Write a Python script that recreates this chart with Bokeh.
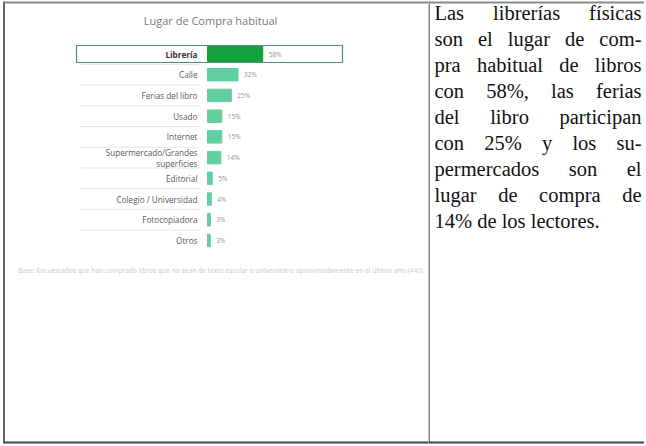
from bokeh.plotting import figure
from bokeh.layouts import row
from bokeh.models import Range1d, ColumnDataSource
from bokeh.core.properties import value
from bokeh.embed import file_html
from bokeh.resources import INLINE

# ---------------- data ----------------
categories = ["Librería", "Calle", "Ferias del libro", "Usado", "Internet",
              "Supermercado/Grandes\nsuperficies", "Editorial", "Colegio / Universidad",
              "Fotocopiadora", "Otros"]
values = [58, 32, 25, 15, 15, 14, 5, 4, 3, 3]
value_labels = [f"{v}%" for v in values]
chart_title = "Lugar de Compra habitual"
footnote = ("Base: Encuestados que han comprado libros que no sean de texto escolar o "
            "universitario aproximadamente en el último año (440)")
paragraph_lines = [
    "Las librerías físicas",
    "son el lugar de com-",
    "pra habitual de libros",
    "con 58%, las ferias",
    "del libro participan",
    "con 25% y los su-",
    "permercados son el",
    "lugar de compra de",
    "14% de los lectores.",
]

# ---------------- layout constants (page pixels) ----------------
LEFT_W, RIGHT_W, H = 428, 216, 444
PAGE_X0, PAGE_Y0 = 0, 0
BAR0 = 207.0      # page x of 0%
PXPCT = 0.953     # px per percent
ROW0 = 53.5       # page y of first row
ROWSTEP = 20.72

def dx(xpage):
    return (xpage - BAR0) / PXPCT

def dy(ypage):
    return (ypage - ROW0) / ROWSTEP

FONT = value("Open Sans")

# ---------------- left cell: chart ----------------
pL = figure(width=LEFT_W, height=H, output_backend="svg", toolbar_location=None,
            x_range=Range1d(dx(PAGE_X0), dx(PAGE_X0 + LEFT_W)),
            y_range=Range1d(dy(PAGE_Y0 + H), dy(PAGE_Y0)),
            x_axis_type=None, y_axis_type=None, min_border=0,
            outline_line_color=None, background_fill_color="white",
            border_fill_color="white")
pL.grid.visible = False

idx = list(range(len(categories)))
colors = ["#14a03a"] + ["#62cfa0"] * (len(categories) - 1)
heights = [0.72] + [0.6] * (len(categories) - 1)
styles = ["bold"] + ["normal"] * (len(categories) - 1)
lcolors = ["#333333"] + ["#5a5a5a"] * (len(categories) - 1)
src = ColumnDataSource(dict(y=idx, v=values, cat=categories, lab=value_labels,
                            color=colors, h=heights, style=styles, lcolor=lcolors))

# separators
sep_y = [i + 0.5 for i in idx[:-1]]
pL.segment(x0=[dx(80)] * len(sep_y), x1=[dx(200)] * len(sep_y), y0=sep_y, y1=sep_y,
           line_color="#e6e6e6", line_width=1)

# highlight box around first row
pL.quad(left=[dx(76)], right=[dx(342)], top=[dy(45)], bottom=[dy(62)],
        fill_color=None, line_color="#4a8f80", line_width=1.2)

pL.hbar(y="y", left=0, right="v", height="h", color="color", source=src)

pL.text(x=0, y="y", text="cat", source=src, x_offset=-10, text_align="right",
        text_baseline="middle", text_font=FONT, text_font_size="8.2px",
        text_color="lcolor", text_font_style="style", text_line_height=1.0)
pL.text(x="v", y="y", text="lab", source=src, x_offset=6, text_align="left",
        text_baseline="middle", text_font=FONT, text_font_size="6.5px",
        text_color="#8f8f8f")

pL.text(x=[dx(210)], y=[dy(20)], text=[chart_title], text_align="center",
        text_baseline="middle", text_font=FONT, text_font_size="11px",
        text_color="#7a7a7a")
pL.text(x=[dx(220)], y=[dy(270)], text=[footnote], text_align="center",
        text_baseline="middle", text_font=FONT, text_font_size="6.7px",
        text_color="#c8c8c8")

# borders of the left cell
pL.segment(x0=[dx(3.5)], x1=[dx(3.5)], y0=[dy(1)], y1=[dy(443)], line_color="#333333", line_width=1.5)
pL.segment(x0=[dx(3)], x1=[dx(428)], y0=[dy(2)], y1=[dy(2)], line_color="#8a8a8a", line_width=2)
pL.segment(x0=[dx(3)], x1=[dx(428)], y0=[dy(442)], y1=[dy(442)], line_color="#444444", line_width=2)

# ---------------- right cell: paragraph ----------------
pR = figure(width=RIGHT_W, height=H, output_backend="svg", toolbar_location=None,
            x_range=Range1d(0, RIGHT_W), y_range=Range1d(H, 0),
            x_axis_type=None, y_axis_type=None, min_border=0,
            outline_line_color=None, background_fill_color="white",
            border_fill_color="white")
pR.grid.visible = False

TIMES = {' ': 250, '%': 833, ',': 250, '-': 333, '.': 250,
         'L': 611,
         'a': 444, 'b': 500, 'c': 444, 'd': 500, 'e': 444, 'f': 333, 'g': 500,
         'h': 500, 'i': 278, 'j': 278, 'k': 500, 'l': 278, 'm': 778, 'n': 500,
         'o': 500, 'p': 500, 'q': 500, 'r': 333, 's': 389, 't': 278, 'u': 500,
         'v': 500, 'w': 722, 'x': 500, 'y': 500, 'z': 444, 'í': 278, 'é': 444,
         'á': 444, 'ó': 500, 'ú': 500}
FS = 20.5

def tw(s):
    return sum(TIMES.get(c, 500) for c in s) * FS / 1000.0

XR0 = LEFT_W
TX0, TX1 = 434 - XR0, 641 - XR0
BASE0, LSTEP = 12.5 - PAGE_Y0, 26.0
wx, wy, wt = [], [], []
for li, line in enumerate(paragraph_lines):
    words = line.split()
    yb = BASE0 + li * LSTEP
    if li == len(paragraph_lines) - 1 or len(words) == 1:
        gap = tw(" ")
    else:
        gap = (TX1 - TX0 - sum(tw(w) for w in words)) / (len(words) - 1)
    x = TX0
    for w in words:
        wx.append(x); wy.append(yb); wt.append(w)
        x += tw(w) + gap

pR.text(x=wx, y=wy, text=wt, text_align="left", text_baseline="middle",
        text_font=value("Liberation Serif"), text_font_size=f"{FS}px", text_color="#111111")

pR.segment(x0=[0.5], x1=[0.5], y0=[1], y1=[443], line_color="#333333", line_width=1.2)
pR.segment(x0=[0], x1=[RIGHT_W], y0=[2], y1=[2], line_color="#8a8a8a", line_width=2)
pR.segment(x0=[0], x1=[RIGHT_W], y0=[442], y1=[442], line_color="#444444", line_width=2)

layout = row(pL, pR, spacing=0)
open("out.html", "w").write(file_html(layout, INLINE))
